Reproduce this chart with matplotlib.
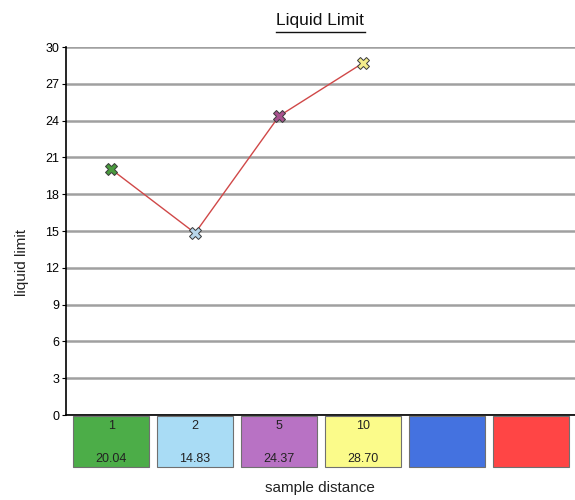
import matplotlib.pyplot as plt
from matplotlib.patches import Rectangle
import matplotlib.transforms as mtransforms

categories = ['1', '2', '5', '10', '', '']
values = [20.04, 14.83, 24.37, 28.70]
box_colors = ['#4cad48', '#a9dcf5', '#b872c4', '#fbfb8a', '#4472e0', '#ff4545']
marker_colors = ['#4a9a3e', '#b8d6ea', '#a8528e', '#f3ec8c']
yticks = list(range(0, 31, 3))

fig = plt.figure(figsize=(5.75, 5.0), dpi=100)
ax = fig.add_axes([0.115, 0.17, 0.885, 0.736])

narrow = ['Liberation Sans Narrow', 'Liberation Sans', 'DejaVu Sans']
regular = ['Liberation Sans', 'DejaVu Sans']

xs = list(range(len(values)))
ax.plot(xs, values, color='#d04848', lw=1, zorder=3)
for x, v, c in zip(xs, values, marker_colors):
    ax.plot(x, v, marker='X', ms=9, mfc=c, mec='#3a3a3a', mew=0.7, zorder=4)

ax.set_xlim(-0.536, 5.524)
ax.set_ylim(0, 30)
ax.set_yticks(yticks)
ax.set_yticklabels([str(t) for t in yticks], family=narrow, fontsize=9)
ax.set_xticks([])
ax.yaxis.grid(True, color='#a0a0a0', lw=1.8)
ax.set_axisbelow(True)
ax.tick_params(axis='y', length=3, width=0.8, pad=2)
for s in ['top', 'right']:
    ax.spines[s].set_visible(False)
ax.spines['left'].set_linewidth(1.2)
ax.spines['bottom'].set_linewidth(1.2)

# category boxes under the axis
trans = mtransforms.blended_transform_factory(ax.transData, ax.transAxes)
for i, (lab, c) in enumerate(zip(categories, box_colors)):
    ax.add_patch(Rectangle((i - 0.45, -0.142), 0.9, 0.139, transform=trans,
                           facecolor=c, edgecolor='#707070', lw=0.8, clip_on=False))
    if lab:
        ax.text(i, -0.03, lab, transform=trans, ha='center', va='center',
                family=narrow, fontsize=9, color='#222222')
    if i < len(values):
        ax.text(i, -0.12, '%.2f' % values[i], transform=trans, ha='center',
                va='center', family=narrow, fontsize=9, color='#222222')

fig.text(0.557, 0.958, 'Liquid Limit', ha='center', va='center', family=regular,
         fontsize=12.5, color='#111111')
fig.add_artist(plt.Line2D([0.48, 0.634], [0.936, 0.936], color='#111111', lw=1))
fig.text(0.038, 0.476, 'liquid limit', rotation=90, ha='center', va='center',
         family=regular, fontsize=11, color='#222222')
fig.text(0.556, 0.024, 'sample distance', ha='center', va='center',
         family=regular, fontsize=11, color='#222222')

fig.savefig('out.png', dpi=100)
